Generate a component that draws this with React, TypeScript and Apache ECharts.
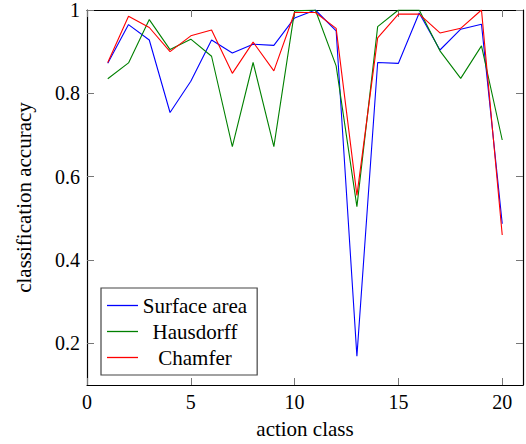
import React, { useEffect, useRef } from "react";
import * as echarts from "echarts";

// Per-class accuracy for each shape descriptor, action classes 1..20
const actionClasses = [1, 2, 3, 4, 5, 6, 7, 8, 9, 10, 11, 12, 13, 14, 15, 16, 17, 18, 19, 20];
const surfaceArea = [0.872, 0.965, 0.928, 0.754, 0.829, 0.928, 0.897, 0.918, 0.915, 0.981, 1.0, 0.95, 0.169, 0.874, 0.872, 0.993, 0.904, 0.954, 0.966, 0.487];
const hausdorff = [0.835, 0.873, 0.977, 0.905, 0.93, 0.889, 0.672, 0.874, 0.672, 0.998, 1.0, 0.866, 0.528, 0.96, 1.0, 1.0, 0.902, 0.836, 0.914, 0.688];
const chamfer = [0.874, 0.985, 0.958, 0.9, 0.938, 0.952, 0.848, 0.923, 0.854, 0.994, 0.994, 0.956, 0.555, 0.933, 0.99, 0.99, 0.945, 0.956, 1.0, 0.46];

const xTicks = [0, 5, 10, 15, 20];
const yTicks = [0.2, 0.4, 0.6, 0.8, 1];

const FONT = "Liberation Serif";

const pairs = (ys: number[]) => actionClasses.map((x, i) => [x, ys[i]]);

export default function App() {
  const ref = useRef<HTMLDivElement>(null);

  useEffect(() => {
    if (!ref.current) return;
    const chart = echarts.init(ref.current, null, { renderer: "svg" });

    const tickStyle = { show: true, inside: true, length: 7, lineStyle: { color: "#777", width: 1 } };
    const lineAxis = { show: true, onZero: false, lineStyle: { color: "#000", width: 1.2 } };

    const xBase = {
      type: "value" as const,
      min: 0,
      max: 21,
      splitLine: { show: false },
      axisLine: lineAxis,
    };
    const yBase = {
      type: "value" as const,
      min: 0.1,
      max: 1,
      splitLine: { show: false },
      axisLine: lineAxis,
    };

    const mk = (name: string, color: string, ys: number[]) => ({
      name,
      type: "line" as const,
      data: pairs(ys),
      symbol: "none",
      lineStyle: { color, width: 1.1 },
      itemStyle: { color },
      xAxisIndex: 0,
      yAxisIndex: 0,
    });

    chart.setOption({
      animation: false,
      textStyle: { fontFamily: FONT },
      grid: { left: 87, top: 9, right: 3, bottom: 59, containLabel: false },
      xAxis: [
        {
          ...xBase,
          position: "bottom",
          name: "action class",
          nameLocation: "middle",
          nameGap: 33,
          nameTextStyle: { fontFamily: FONT, fontSize: 21, color: "#000" },
          axisTick: { ...tickStyle, customValues: xTicks },
          axisLabel: { customValues: xTicks, fontFamily: FONT, fontSize: 20, color: "#000", margin: 7 },
        },
        {
          ...xBase,
          position: "top",
          axisTick: { ...tickStyle, customValues: xTicks },
          axisLabel: { show: false },
        },
      ],
      yAxis: [
        {
          ...yBase,
          position: "left",
          name: "classification accuracy",
          nameLocation: "middle",
          nameGap: 53,
          nameTextStyle: { fontFamily: FONT, fontSize: 21, color: "#000" },
          axisTick: { ...tickStyle, customValues: yTicks },
          axisLabel: {
            customValues: yTicks,
            fontFamily: FONT,
            fontSize: 20,
            color: "#000",
            margin: 7,
            formatter: (v: number) => String(Math.round(v * 10) / 10),
          },
        },
        {
          ...yBase,
          position: "right",
          axisTick: { ...tickStyle, customValues: yTicks },
          axisLabel: { show: false },
        },
      ],
      legend: {
        left: 101,
        top: 288,
        orient: "vertical",
        align: "left",
        icon: "rect",
        itemWidth: 31,
        itemHeight: 1.3,
        itemGap: 5,
        padding: [7, 10, 7, 6],
        borderColor: "#444",
        borderWidth: 1.2,
        backgroundColor: "#fff",
        formatter: (n: string) => `{t|${n}}`,
        textStyle: {
          fontFamily: FONT,
          fontSize: 21,
          color: "#000",
          rich: {
            t: { width: 104, align: "center", fontFamily: FONT, fontSize: 21, lineHeight: 20, color: "#000" },
          },
        },
        data: ["Surface area", "Hausdorff", "Chamfer"],
      },
      series: [
        mk("Surface area", "#0000ff", surfaceArea),
        mk("Hausdorff", "#008000", hausdorff),
        mk("Chamfer", "#ff0000", chamfer),
      ],
    });

    return () => chart.dispose();
  }, []);

  return <div ref={ref} style={{ width: 526, height: 444, position: "absolute", left: 0, top: 0 }} />;
}
